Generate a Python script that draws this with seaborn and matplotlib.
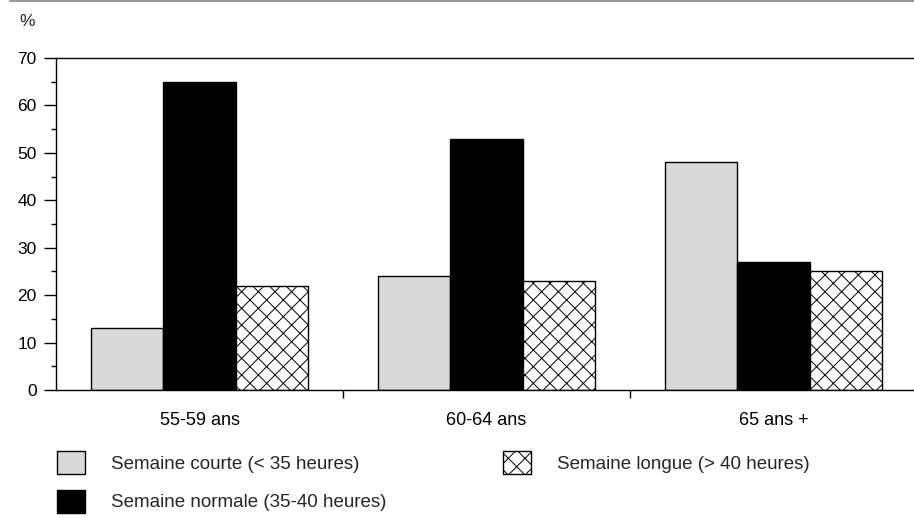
import matplotlib
matplotlib.use("Agg")
import matplotlib.pyplot as plt
import seaborn as sns
import pandas as pd
from matplotlib.ticker import MultipleLocator, FixedLocator
from matplotlib.lines import Line2D

sns.set_theme(style="white")
plt.rcParams['font.family'] = ['Liberation Sans', 'DejaVu Sans']
plt.rcParams['hatch.linewidth'] = 0.7
plt.rcParams['hatch.color'] = '#555555'

# Data
groups = ["55-59 ans", "60-64 ans", "65 ans +"]
series = ["Semaine courte (< 35 heures)",
          "Semaine normale (35-40 heures)",
          "Semaine longue (> 40 heures)"]
courte = [13, 24, 48]
normale = [65, 53, 27]
longue = [22, 23, 25]

df = pd.DataFrame({
    "groupe": groups * 3,
    "serie": [series[0]] * 3 + [series[1]] * 3 + [series[2]] * 3,
    "valeur": courte + normale + longue,
})

colors = ["#d9d9d9", "#000000", "#ffffff"]

fig = plt.figure(figsize=(9.14, 5.18), dpi=100)
ax = fig.add_axes([56 / 914, 1 - 390 / 518, 861 / 914, 332 / 518])

sns.barplot(data=df, x="groupe", y="valeur", hue="serie", hue_order=series,
            palette=colors, width=0.757, edgecolor="black", linewidth=1,
            saturation=1, ax=ax, legend=True)

# hatch on the "longue" bars
for p in ax.containers[2]:
    p.set_hatch("xx")

ax.set_xlim(-0.5, 2.5)
ax.set_ylim(0, 70)
ax.set_xlabel("")
ax.set_ylabel("")

for s in ["left", "top", "bottom"]:
    ax.spines[s].set_visible(True)
    ax.spines[s].set_color("black")
    ax.spines[s].set_linewidth(1)
ax.spines["right"].set_visible(False)

ax.yaxis.set_major_locator(MultipleLocator(10))
ax.yaxis.set_minor_locator(MultipleLocator(5))
ax.tick_params(axis="y", which="major", left=True, length=8.5, width=1,
               color="black", labelsize=12.5, pad=5.5, labelcolor="black")
ax.tick_params(axis="y", which="minor", left=True, length=3.6, width=1,
               color="black")
ax.xaxis.set_minor_locator(FixedLocator([0.5, 1.5]))
ax.tick_params(axis="x", which="major", bottom=False, labelsize=13,
               pad=10, labelcolor="black")
ax.tick_params(axis="x", which="minor", bottom=True, length=6, width=1,
               color="black")

fig.text(19 / 914, 1 - 21 / 518, "%", fontsize=12.5, va="center", ha="left")
fig.add_artist(Line2D([10 / 914, 1], [0.998, 0.998], color="#999999", lw=1.5,
                      transform=fig.transFigure))

handles, labels = ax.get_legend_handles_labels()
ax.get_legend().remove()
for h in handles:
    h.set_edgecolor("black")
handles[2].set_hatch("xx")
fig.legend(handles, labels, ncol=2, loc="upper left",
           bbox_to_anchor=(57 / 914, 1 - 451 / 518), frameon=False,
           borderpad=0, borderaxespad=0,
           fontsize=13.5, handlelength=1.5, handleheight=1.5,
           handletextpad=1.4, columnspacing=6.2, labelspacing=0.85)

fig.savefig("out.png", dpi=100)
